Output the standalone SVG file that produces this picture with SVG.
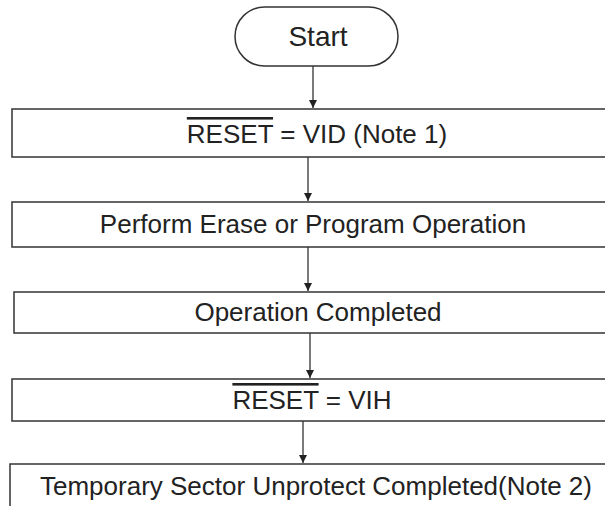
<svg xmlns="http://www.w3.org/2000/svg" width="605" height="506" viewBox="0 0 605 506">
<style>
.box{fill:#fff;stroke:#333;stroke-width:1.5}
.t{font-family:"Liberation Sans",Arial,sans-serif;font-size:26px;fill:#222;text-anchor:middle}
.c{stroke:#333;stroke-width:1.3;fill:none;marker-end:url(#ah)}
.ol{text-decoration:overline}
</style>
<defs>
<marker id="ah" viewBox="0 0 8 12" refX="8" refY="6" markerWidth="8" markerHeight="12" markerUnits="userSpaceOnUse" orient="auto">
<path d="M0,2 L8,6 L0,10 Z" fill="#222"/>
</marker>
</defs>
<rect width="605" height="506" fill="#fff"/>
<g id="connectors">
<line class="c" x1="313" y1="66" x2="313" y2="108"/>
<line class="c" x1="308" y1="157" x2="308" y2="201"/>
<line class="c" x1="308" y1="247" x2="308" y2="291"/>
<line class="c" x1="310" y1="333" x2="310" y2="378"/>
<line class="c" x1="303" y1="421" x2="303" y2="463"/>
</g>
<g id="start">
<rect class="box" x="235" y="7" width="163" height="59" rx="29.5"/>
<text class="t" x="318" y="46" style="font-size:28px">Start</text>
</g>
<g id="reset_vid">
<rect class="box" x="12" y="109" width="600" height="48"/>
<text class="t" x="317" y="143"><tspan class="ol">RESET</tspan> = VID (Note 1)</text>
</g>
<g id="perform">
<rect class="box" x="12" y="202" width="600" height="45"/>
<text class="t" x="313" y="233">Perform Erase or Program Operation</text>
</g>
<g id="op_completed">
<rect class="box" x="14" y="292" width="600" height="41"/>
<text class="t" x="318" y="321">Operation Completed</text>
</g>
<g id="reset_vih">
<rect class="box" x="12" y="379" width="600" height="42"/>
<text class="t" x="312" y="409"><tspan class="ol">RESET</tspan> = VIH</text>
</g>
<g id="temp_completed">
<rect class="box" x="10" y="464" width="600" height="50"/>
<text class="t" x="316" y="495">Temporary Sector Unprotect Completed(Note 2)</text>
</g>
</svg>
